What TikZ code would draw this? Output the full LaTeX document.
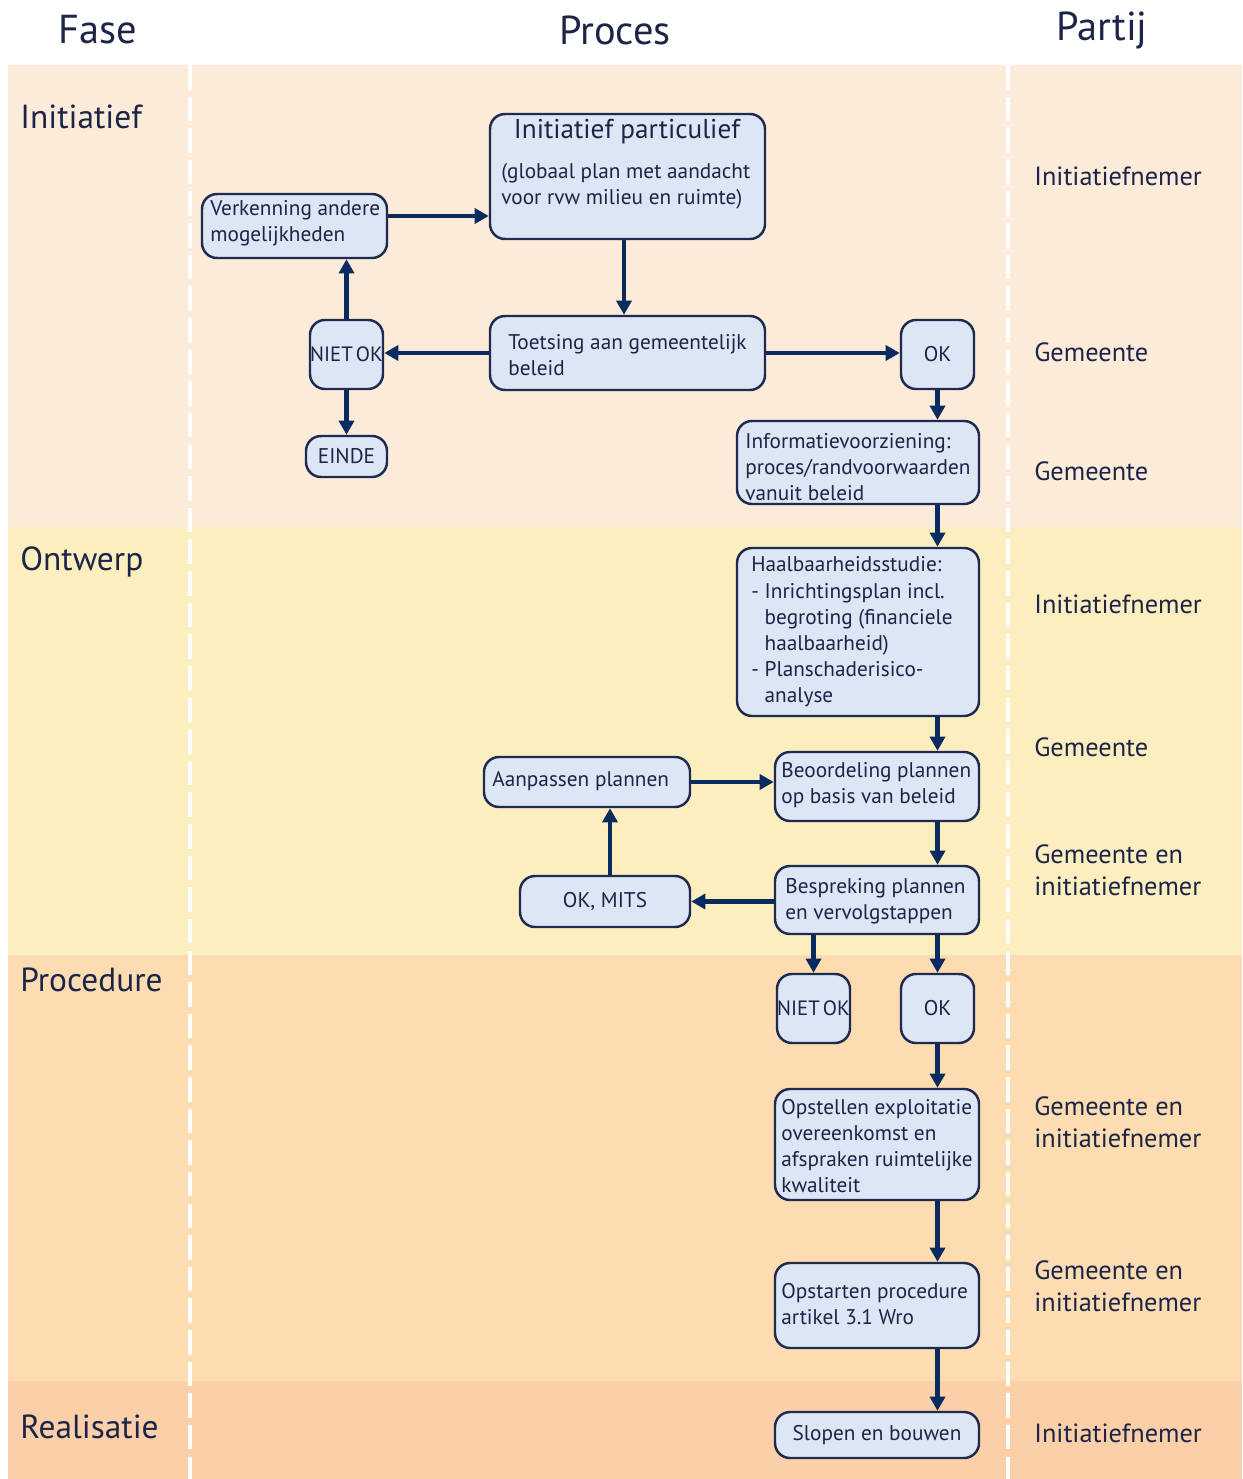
\documentclass[tikz,border=0pt]{standalone}
\usepackage{fontspec}
\setmainfont{PT Sans}
\usetikzlibrary{arrows.meta}
\definecolor{band1}{HTML}{FCEBD9}
\definecolor{band2}{HTML}{FDEEC0}
\definecolor{band3}{HTML}{FCDCB0}
\definecolor{band4}{HTML}{FBCFA8}
\definecolor{boxfill}{HTML}{DCE6F5}
\definecolor{boxline}{HTML}{1F2B4E}
\definecolor{arrowc}{HTML}{0A2B60}
\definecolor{txtc}{HTML}{1C2448}
\newcommand\bx[6]{\node[box, minimum width={(#4-#2)*0.02cm}, minimum height={(#5-#3)*0.02cm}] (#1) at ({(#2+#4)/2},{(#3+#5)/2}) {#6};}
\newcommand\nietok{{\fontsize{11.8pt}{14pt}\selectfont NIET\hspace{1.8pt}OK}}
\begin{document}
\begin{tikzpicture}[x=0.02cm,y=-0.02cm,
  box/.style={draw=boxline, fill=boxfill, line width=1.4pt, rounded corners=0.3cm, inner sep=0pt,
    text=txtc, font=\fontsize{12.1pt}{14.8pt}\selectfont, align=center},
  btxt/.style={text=txtc, font=\fontsize{12.1pt}{14.9pt}\selectfont, align=left, inner sep=0pt, anchor=west},
  arr/.style={draw=arrowc, line width=2.3pt, -{Triangle[length=8pt,width=8.5pt]}},
  hdr/.style={text=txtc, font=\fontsize{23pt}{27pt}\selectfont, inner sep=0pt},
  phase/.style={text=txtc, font=\fontsize{19pt}{23pt}\selectfont, inner sep=0pt, anchor=west},
  party/.style={text=txtc, font=\fontsize{15pt}{18pt}\selectfont, inner sep=0pt, anchor=west, align=left},
  sep/.style={white, line width=2.8pt, dash pattern=on 14pt off 4pt}]
\useasboundingbox (0,0) rectangle (1242,1479);
\fill[white] (0,0) rectangle (1242,1479);
% bands
\fill[band1] (8,65) rectangle (1242,527);
\fill[band2] (8,527) rectangle (1242,955);
\fill[band3] (8,955) rectangle (1242,1381);
\fill[band4] (8,1381) rectangle (1242,1479);
\draw[sep] (190,65) -- (190,1479);
\draw[sep] (1008,65) -- (1008,1479);
% headers
\node[hdr] (hfase) at (98,30) {Fase};
\node[hdr] (hproces) at (615,30) {Proces};
\node[hdr] (hpartij) at (1102,30) {Partij};
% phases
\node[phase] (p1) at (20,117) {Initiatief};
\node[phase] (p2) at (20,562) {Ontwerp};
\node[phase] (p3) at (20,980) {Procedure};
\node[phase] (p4) at (20,1427) {Realisatie};
% parties
\node[party] (r1) at (1034,176) {Initiatiefnemer};
\node[party] (r2) at (1034,352) {Gemeente};
\node[party] (r3) at (1034,471) {Gemeente};
\node[party] (r4) at (1034,604) {Initiatiefnemer};
\node[party] (r5) at (1034,747) {Gemeente};
\node[party] (r6) at (1034,870) {Gemeente en\\initiatiefnemer};
\node[party] (r7) at (1034,1122) {Gemeente en\\initiatiefnemer};
\node[party] (r8) at (1034,1286) {Gemeente en\\initiatiefnemer};
\node[party] (r9) at (1034,1433) {Initiatiefnemer};
% boxes
\bx{verk}{202}{194}{387}{258}{}
\bx{init}{490}{114}{765}{239}{}
\bx{niet1}{310}{320}{383}{389}{\nietok}
\bx{toets}{490}{316}{765}{390}{}
\bx{ok1}{901}{320}{974}{389}{OK}
\bx{einde}{306}{436}{387}{477}{EINDE}
\bx{info}{737}{421}{979}{504}{}
\bx{haal}{737}{548}{979}{716}{}
\bx{beoord}{775}{752}{979}{821}{}
\bx{aanp}{484}{757}{690}{807}{}
\bx{okm}{520}{876}{690}{927}{OK, MITS}
\bx{besp}{775}{866}{979}{934}{}
\bx{niet2}{777}{974}{850}{1043}{\nietok}
\bx{ok2}{901}{974}{974}{1043}{OK}
\bx{opst}{775}{1089}{979}{1200}{}
\bx{opstart}{775}{1263}{979}{1348}{}
\bx{slopen}{775}{1412}{979}{1458}{Slopen en bouwen}
% box texts
\node[btxt] (tverk) at (210,223) {Verkenning andere\\mogelijkheden};
\node[text=txtc, font=\fontsize{15.5pt}{18pt}\selectfont, inner sep=0pt] (tinit1) at (627,132) {Initiatief particulief};
\node[btxt] (tinit2) at (501,186) {(globaal plan met aandacht\\voor rvw milieu en ruimte)};
\node[btxt] (ttoets) at (508,355) {Toetsing aan gemeentelijk\\beleid};
\node[btxt] (tinfo) at (745,467) {Informatievoorziening:\\proces/randvoorwaarden\\vanuit beleid};
\node[btxt] (thaal) at (751,632) {Haalbaarheidsstudie:\\- Inrichtingsplan incl.\\\phantom{- }begroting (financiele\\\phantom{- }haalbaarheid)\\- Planschaderisico-\\\phantom{- }analyse};
\node[btxt] (tbeoord) at (781,785) {Beoordeling plannen\\op basis van beleid};
\node[btxt] (taanp) at (492,781) {Aanpassen plannen};
\node[btxt] (tbesp) at (785,901) {Bespreking plannen\\en vervolgstappen};
\node[btxt] (topst) at (781,1146) {Opstellen exploitatie\\overeenkomst en\\afspraken ruimtelijke\\kwaliteit};
\node[btxt] (topstart) at (781,1304) {Opstarten procedure\\artikel 3.1 Wro};
% arrows
\draw[arr] (verk.east |- 0,216) -- (init.west |- 0,216);
\draw[arr] (init.south -| 624,0) -- (toets.north -| 624,0);
\draw[arr] (toets.west |- 0,353) -- (niet1.east |- 0,353);
\draw[arr] (toets.east |- 0,353) -- (ok1.west |- 0,353);
\draw[arr] (niet1.north) -- (verk.south -| niet1.north);
\draw[arr] (niet1.south) -- (einde.north -| niet1.south);
\draw[arr] (ok1.south) -- (info.north -| ok1.south);
\draw[arr] (info.south -| ok1.south) -- (haal.north -| ok1.south);
\draw[arr] (haal.south -| ok1.south) -- (beoord.north -| ok1.south);
\draw[arr] (aanp.east) -- (beoord.west |- aanp.east);
\draw[arr] (beoord.south -| ok1.south) -- (besp.north -| ok1.south);
\draw[arr] (besp.west |- okm.east) -- (okm.east);
\draw[arr] (okm.north -| 610,0) -- (aanp.south -| 610,0);
\draw[arr] (besp.south -| niet2.north) -- (niet2.north);
\draw[arr] (besp.south -| ok2.north) -- (ok2.north);
\draw[arr] (ok2.south) -- (opst.north -| ok2.south);
\draw[arr] (opst.south -| ok2.south) -- (opstart.north -| ok2.south);
\draw[arr] (opstart.south -| ok2.south) -- (slopen.north -| ok2.south);
\end{tikzpicture}
\end{document}
